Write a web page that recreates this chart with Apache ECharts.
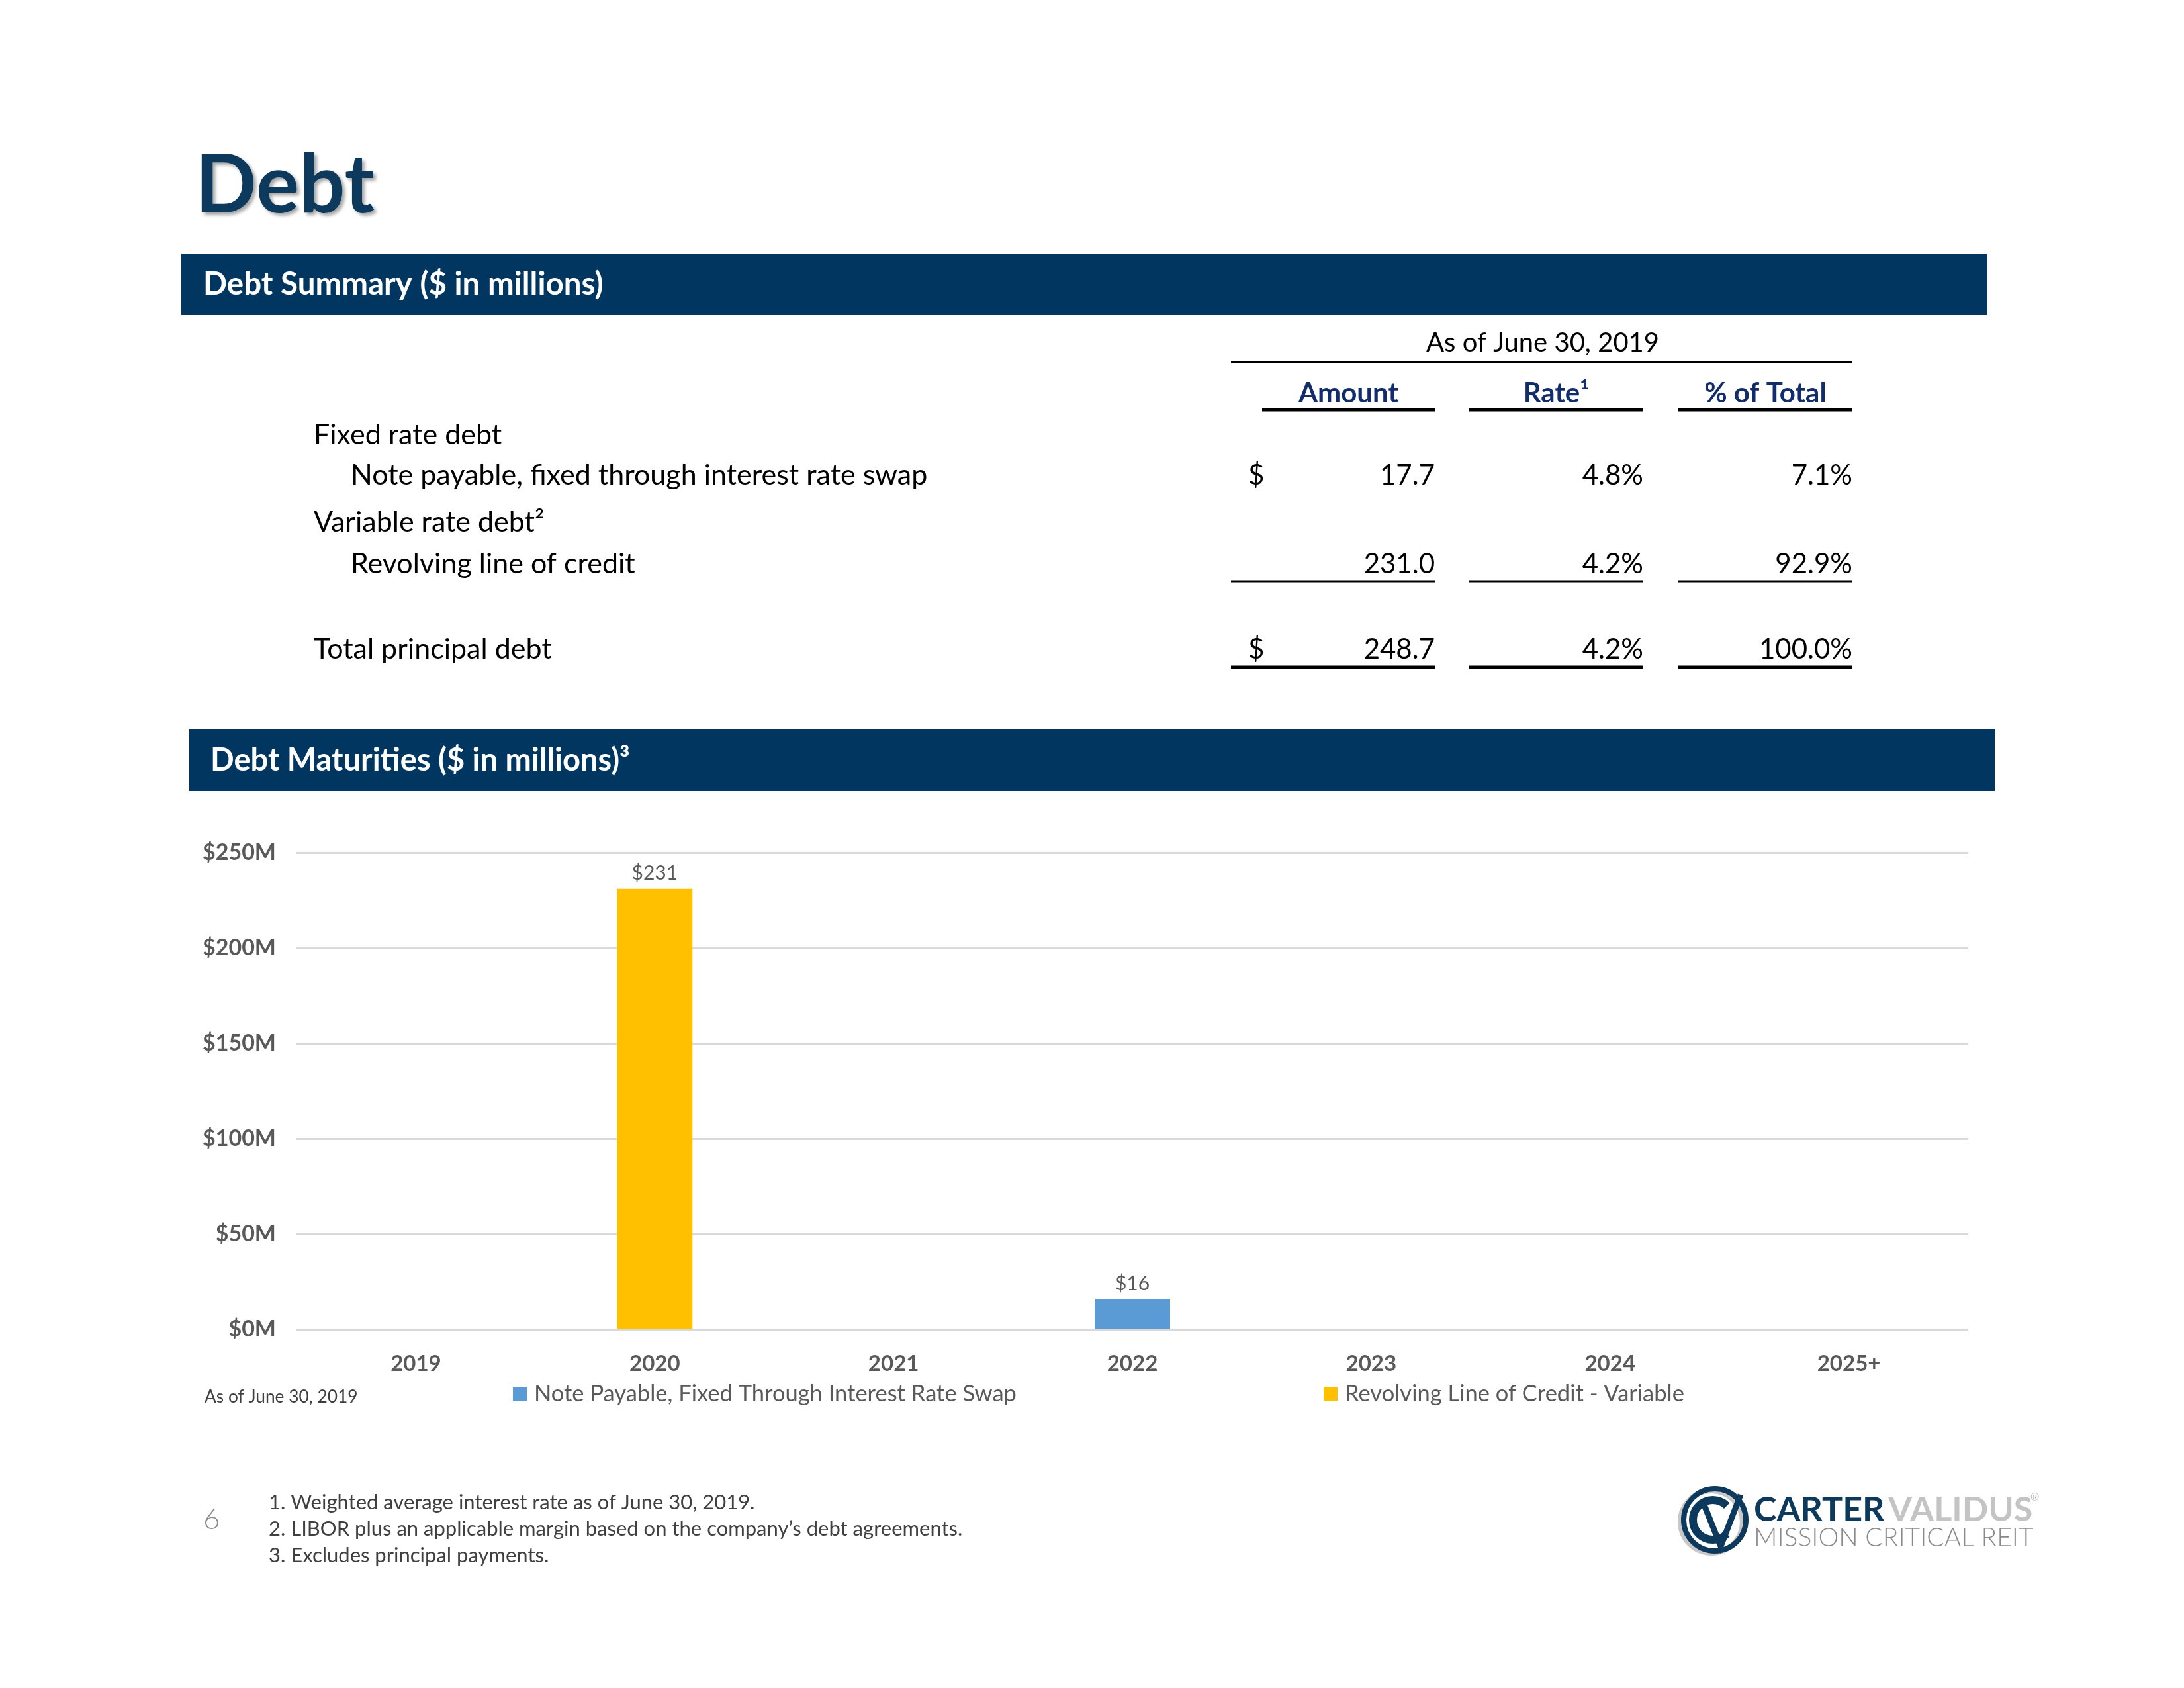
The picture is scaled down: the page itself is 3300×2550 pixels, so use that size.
<!DOCTYPE html>
<html>
<head>
<meta charset="utf-8">
<title>Debt</title>
<script src="https://cdn.jsdelivr.net/npm/echarts@6/dist/echarts.min.js"></script>
<style>
  html, body { margin: 0; padding: 0; background: #fff; }
  #main { width: 3300px; height: 2550px; }
</style>
</head>
<body>
<div id="main"></div>
<script>
// chart data
const years = ['2019', '2020', '2021', '2022', '2023', '2024', '2025+'];
const notePayable = [0, 0, 0, 16, 0, 0, 0];
const revolvingCredit = [0, 231, 0, 0, 0, 0, 0];
const seriesNames = ['Note Payable, Fixed Through Interest Rate Swap', 'Revolving Line of Credit - Variable'];

// debt summary table
const rowLabels = ['Fixed rate debt', 'Note payable, fixed through interest rate swap', 'Variable rate debt²', 'Revolving line of credit', 'Total principal debt'];
const rowIndent = [0, 1, 0, 1, 0];
const rowDollar = [false, true, false, false, true];
const amounts = [null, 17.7, null, 231.0, 248.7];
const rates = [null, 4.8, null, 4.2, 4.2];
const pctOfTotal = [null, 7.1, null, 92.9, 100.0];
const colHeaders = ['Amount', 'Rate¹', '% of Total'];
const footnotes = [
  '1. Weighted average interest rate as of June 30, 2019.',
  '2. LIBOR plus an applicable margin based on the company’s debt agreements.',
  '3. Excludes principal payments.'
];

const FONT = 'Lato, "Open Sans", sans-serif';
const NAVY = '#003660';
const GRAY = '#595959';

const chart = echarts.init(document.getElementById('main'));

function txt(x, y, text, opt) {
  return {
    type: 'text',
    style: Object.assign({
      x: x, y: y, text: text,
      fill: '#000', fontFamily: FONT, fontSize: 42,
      align: 'left', verticalAlign: 'middle'
    }, opt || {})
  };
}
function hline(x1, x2, y, w) {
  return { type: 'line', shape: { x1: x1, y1: y, x2: x2, y2: y }, style: { stroke: '#000', lineWidth: w } };
}

const g = [];

// page title + section bars
g.push(txt(295, 282, 'Debt', {
  fill: '#0d3a5c', fontSize: 122, fontWeight: 'bold',
  textShadowColor: 'rgba(0,0,0,0.35)', textShadowBlur: 5, textShadowOffsetX: 4, textShadowOffsetY: 4
}));
g.push({ type: 'rect', shape: { x: 274, y: 383, width: 2729, height: 93 }, style: { fill: NAVY } });
g.push(txt(307, 430, 'Debt Summary ($ in millions)', { fill: '#fff', fontSize: 47.5, fontWeight: 'bold' }));
g.push({ type: 'rect', shape: { x: 286, y: 1101, width: 2728, height: 94 }, style: { fill: NAVY } });
g.push(txt(318, 1149, 'Debt Maturities ($ in millions)³', { fill: '#fff', fontSize: 47, fontWeight: 'bold' }));

// table
const colRight = [2168, 2483, 2799];
const colLeft = [1907, 2220, 2536];
g.push(txt(2331, 518, 'As of June 30, 2019', { align: 'center', fontSize: 40 }));
g.push(hline(1860, 2799, 547, 3));
colHeaders.forEach(function (h, i) {
  g.push(txt((colLeft[i] + colRight[i]) / 2, 594, h, { align: 'center', fontWeight: 'bold', fill: '#132c6b' }));
  g.push(hline(colLeft[i], colRight[i], 619, 5));
});
const rowY = [657, 718, 789, 852, 981];
rowLabels.forEach(function (lab, i) {
  g.push(txt(474 + rowIndent[i] * 56, rowY[i], lab, { fontSize: 43 }));
  if (rowDollar[i]) g.push(txt(1886, rowY[i], '$'));
  if (amounts[i] != null) g.push(txt(colRight[0], rowY[i], amounts[i].toFixed(1), { align: 'right' }));
  if (rates[i] != null) g.push(txt(colRight[1], rowY[i], rates[i].toFixed(1) + '%', { align: 'right' }));
  if (pctOfTotal[i] != null) g.push(txt(colRight[2], rowY[i], pctOfTotal[i].toFixed(1) + '%', { align: 'right' }));
});
[[1860, 2168], [2220, 2483], [2536, 2799]].forEach(function (s) {
  g.push(hline(s[0], s[1], 878, 3));
  g.push(hline(s[0], s[1], 1008, 5));
});

// chart note
g.push(txt(309, 2111, 'As of June 30, 2019', { fontSize: 26.3, fill: '#404040' }));

// footer
g.push(txt(307, 2296, '6', { fontSize: 44, fill: '#8c8c8c', fontWeight: 300 }));
footnotes.forEach(function (f, i) {
  g.push(txt(406, 2270 + i * 40, f, { fontSize: 31, fill: '#404040' }));
});

// logo
g.push({ type: 'circle', shape: { cx: 2586, cy: 2299, r: 47 }, style: { fill: 'none', stroke: '#c8c8c8', lineWidth: 8 } });
g.push({ type: 'circle', shape: { cx: 2591, cy: 2296, r: 47 }, style: { fill: 'none', stroke: '#0d3a5c', lineWidth: 8 } });
g.push({ type: 'arc', shape: { cx: 2588, cy: 2296, r: 30, startAngle: -Math.PI / 4, endAngle: Math.PI / 4, clockwise: false }, style: { fill: 'none', stroke: '#0d3a5c', lineWidth: 12 } });
g.push({ type: 'polyline', shape: { points: [[2572, 2266], [2600, 2336], [2630, 2258]] }, style: { fill: 'none', stroke: '#0d3a5c', lineWidth: 9 } });
g.push(txt(2650, 2281, 'CARTER', { fontSize: 52, fontWeight: 'bold', fill: '#0d3a5c' }));
g.push(txt(2853, 2281, 'VALIDUS', { fontSize: 52, fontWeight: 'bold', fill: '#c4c4c4' }));
g.push(txt(3068, 2262, '®', { fontSize: 16, fill: '#b0b0b0' }));
g.push(txt(2650, 2323, 'MISSION CRITICAL REIT', { fontSize: 39, fontWeight: 300, fill: '#8a8a8a' }));

function barLabel(p) {
  return p.value ? '$' + p.value : '';
}

const legendText = { color: GRAY, fontFamily: FONT, fontSize: 34.5, padding: [0, 0, 0, 6] };

const option = {
  backgroundColor: '#fff',
  animation: false,
  grid: { left: 448, right: 326, top: 1288, bottom: 542, containLabel: false },
  legend: [
    {
      data: [seriesNames[0]], left: 775, top: 2088, padding: 0,
      icon: 'rect', itemWidth: 21, itemHeight: 21, textStyle: legendText
    },
    {
      data: [seriesNames[1]], left: 2000, top: 2088, padding: 0,
      icon: 'rect', itemWidth: 21, itemHeight: 21, textStyle: legendText
    }
  ],
  xAxis: {
    type: 'category',
    data: years,
    axisLine: { show: false },
    axisTick: { show: false },
    axisLabel: { color: GRAY, fontFamily: FONT, fontSize: 33, fontWeight: 'bold', margin: 36 }
  },
  yAxis: {
    type: 'value',
    min: 0, max: 250, interval: 50,
    axisLine: { show: false },
    axisTick: { show: false },
    splitLine: { lineStyle: { color: '#d9d9d9', width: 3 } },
    axisLabel: {
      color: GRAY, fontFamily: FONT, fontSize: 34, fontWeight: 'bold', margin: 31,
      formatter: function (v) { return '$' + v + 'M'; }
    }
  },
  series: [
    {
      name: seriesNames[0], type: 'bar', stack: 'maturity',
      data: notePayable, barWidth: 114,
      itemStyle: { color: '#5b9bd5' },
      label: { show: true, position: 'top', distance: 8, formatter: barLabel, color: GRAY, fontFamily: FONT, fontSize: 30 }
    },
    {
      name: seriesNames[1], type: 'bar', stack: 'maturity',
      data: revolvingCredit, barWidth: 114,
      itemStyle: { color: '#ffc000' },
      label: { show: true, position: 'top', distance: 8, formatter: barLabel, color: GRAY, fontFamily: FONT, fontSize: 30 }
    }
  ],
  graphic: { elements: g }
};

chart.setOption(option);
</script>
</body>
</html>
